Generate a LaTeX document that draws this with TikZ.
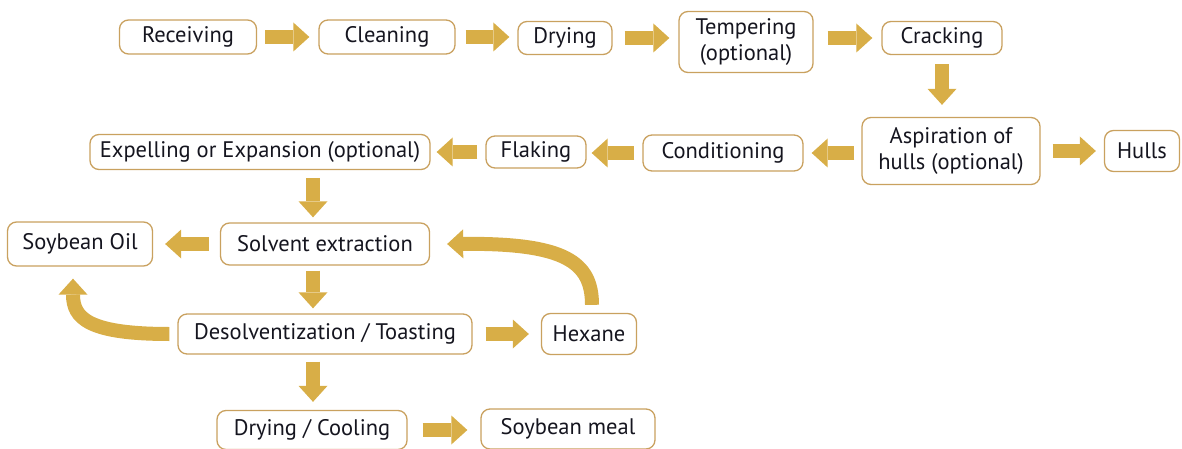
\documentclass[tikz,border=0pt]{standalone}
\usepackage{fontspec}
\setmainfont{PT Sans}
\usetikzlibrary{arrows.meta,calc}
\definecolor{boxc}{HTML}{C9A15F}
\definecolor{arrc}{HTML}{D8AE47}
\definecolor{txt}{HTML}{15151F}
\begin{document}
\begin{tikzpicture}[x=1pt,y=-1pt,
  box/.style={draw=boxc, line width=1.3pt, rounded corners=9pt, fill=white, text=txt,
    font=\fontsize{22.5}{25.5}\selectfont, align=center, inner sep=0pt},
  flow/.style={draw=arrc, line width=14pt, -{Triangle[width=29pt,length=16pt,line width=0pt,fill=arrc]}}
]
\useasboundingbox (0,0) rectangle (1182,449);
% top row
\node[box, minimum width=137pt, minimum height=34pt] (rec) at (188,37) {Receiving};
\node[box, minimum width=136pt, minimum height=34pt] (cle) at (387,37) {Cleaning};
\node[box, minimum width=94pt, minimum height=33pt] (dry) at (565,38) {Drying};
\node[box, minimum width=134pt, minimum height=61pt] (tem) at (746,42) {Tempering\\(optional)};
\node[box, minimum width=120pt, minimum height=33pt] (cra) at (942,38) {Cracking};
% second row
\node[box, minimum width=178pt, minimum height=67pt] (asp) at (951,151) {Aspiration of\\hulls (optional)};
\node[box, minimum width=75pt, minimum height=41pt] (hul) at (1142,151) {Hulls};
\node[box, minimum width=160pt, minimum height=36pt] (con) at (723,153) {Conditioning};
\node[box, minimum width=100pt, minimum height=32pt] (fla) at (536,152) {Flaking};
\node[box, minimum width=340pt, minimum height=35pt] (exp) at (260,152) {Expelling or Expansion (optional)};
% third row
\node[box, minimum width=209pt, minimum height=42pt] (sol) at (325,244) {Solvent extraction};
\node[box, minimum width=145pt, minimum height=44pt] (oil) at (80,244) {Soybean Oil};
% fourth row
\node[box, minimum width=294pt, minimum height=40pt] (des) at (325,334) {Desolventization / Toasting};
\node[box, minimum width=95pt, minimum height=41pt] (hex) at (589,334) {Hexane};
% bottom row
\node[box, minimum width=190pt, minimum height=39pt] (drc) at (312,430) {Drying / Cooling};
\node[box, minimum width=174pt, minimum height=40pt] (mea) at (568,429) {Soybean meal};

% arrows
\draw[flow, shorten <=8pt, shorten >=9pt] (rec.east) -- (rec.east -| cle.west);
\draw[flow, shorten <=10pt, shorten >=8pt] (cle.east) -- (cle.east -| dry.west);
\draw[flow, shorten <=12pt, shorten >=9pt] (dry.east) -- (dry.east -| tem.west);
\draw[flow, shorten <=14pt, shorten >=9pt] (tem.east |- cra.west) -- (cra.west);
\draw[flow, shorten <=9pt, shorten >=12pt] (cra.south) -- (cra.south |- asp.north);
\draw[flow, shorten <=12pt, shorten >=8pt] (asp.east |- hul.west) -- (hul.west);
\draw[flow, shorten <=7pt, shorten >=8pt] (asp.west |- con.east) -- (con.east);
\draw[flow, shorten <=8pt, shorten >=5pt] (con.west) -- (con.west -| fla.east);
\draw[flow, shorten <=8pt, shorten >=6pt] (fla.west) -- (fla.west -| exp.east);
\draw[flow, shorten <=8pt, shorten >=5pt] ([xshift=-12pt]sol.north |- exp.south) -- ([xshift=-12pt]sol.north);
\draw[flow, shorten <=11pt, shorten >=12pt] (sol.west) -- (sol.west -| oil.east);
\draw[flow, shorten <=5pt, shorten >=5pt] ([xshift=-12pt]sol.south) -- ([xshift=-12pt]sol.south |- des.north);
\draw[flow, shorten <=13pt, shorten >=12pt] (des.east) -- (des.east -| hex.west);
\draw[flow, shorten <=7pt, shorten >=8pt] ([xshift=-12pt]des.south) -- ([xshift=-12pt]des.south |- drc.north);
\draw[flow, shorten <=15pt, shorten >=13pt] (drc.east) -- (drc.east -| mea.west);
% curved arrows
\draw[flow, shorten <=8pt] ([xshift=3pt]hex.north) .. controls (592,262) and (565,243) .. ([xshift=17pt]sol.east);
\draw[flow, shorten <=8pt] (des.west) .. controls (88,334) and (73,318) .. ([xshift=-7pt,yshift=-12pt]oil.south);
\end{tikzpicture}
\end{document}
